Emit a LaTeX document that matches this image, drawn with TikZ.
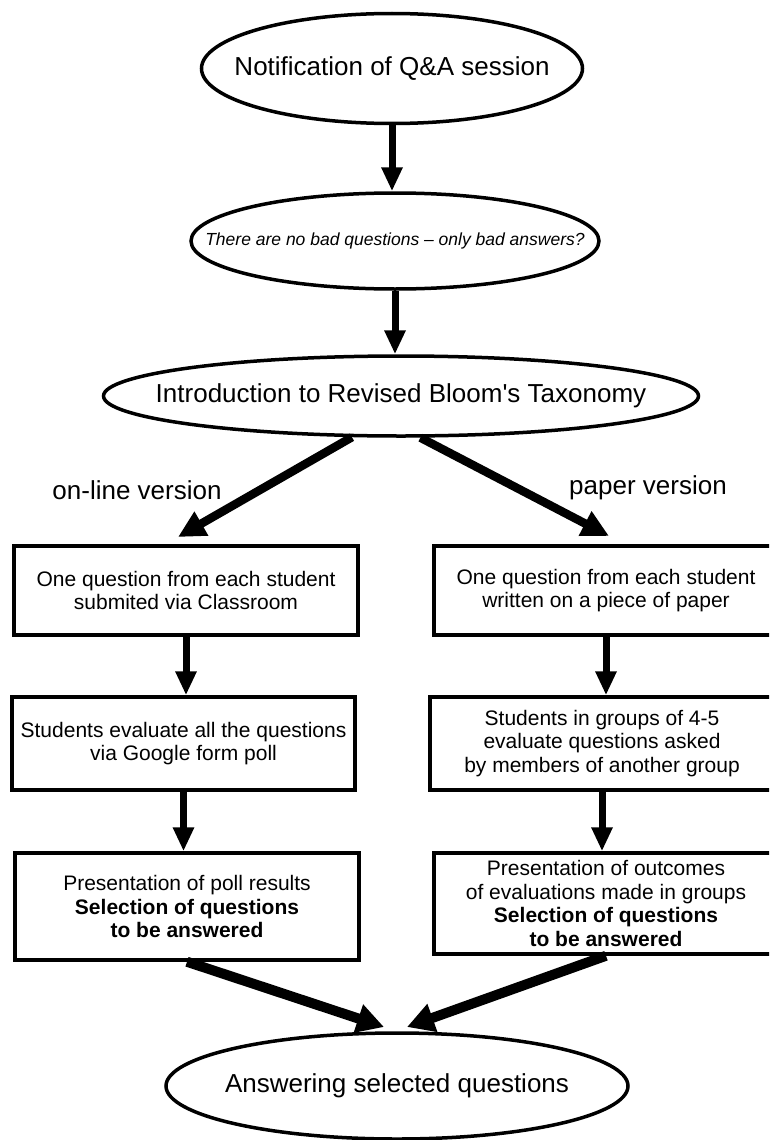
\documentclass[tikz,border=0pt]{standalone}
\usepackage{fontspec}
\setmainfont{Liberation Sans}[Ligatures=TeXOff]
\usetikzlibrary{shapes.geometric,arrows.meta}
\begin{document}
\begin{tikzpicture}[x=1pt,y=-1pt,
  ell/.style={draw, ellipse, line width=3.5pt, inner sep=0pt},
  box/.style={draw, rectangle, line width=3.5pt, inner sep=0pt, align=center, font=\fontsize{21}{23.5}\selectfont},
  big/.style={font=\fontsize{26}{30}\selectfont},
  arr/.style={line width=7pt, -{Triangle[length=24pt,width=20pt]}},
  darr/.style={line width=8.5pt, -{Triangle[length=27pt,width=26pt]}},
  barr/.style={line width=10pt, -{Triangle[length=27pt,width=28pt]}}]
\useasboundingbox (0,0) rectangle (769,1140);
\clip (0,0) rectangle (769,1140);
\fill[white] (0,0) rectangle (769,1140);

% ellipses
\node[ell, minimum width=381pt, minimum height=110pt,
  label={[big]center:Notification of Q\&A session}] (e1) at (392,68.5) {};
\node[ell, minimum width=408pt, minimum height=96pt,
  label={[font=\fontsize{17.5}{20}\selectfont\itshape]center:There are no bad questions – only bad answers?}] (e2) at (395,241) {};
\node[ell, minimum width=595pt, minimum height=80pt,
  label={[big]center:Introduction to Revised Bloom's Taxonomy}] (e3) at (401,396) {};
\node[ell, minimum width=462pt, minimum height=106pt,
  label={[big]center:Answering selected questions}] (e4) at (397,1086) {};

% labels
\node[big] (lab1) at (137,490) {on-line version};
\node[big] (lab2) at (648,488) {paper version};

% boxes
\node[box, minimum width=344pt, minimum height=89pt] (l1) at (186,590.5)
  {One question from each student\\submited via Classroom};
\node[box, minimum width=344pt, minimum height=89pt] (r1) at (606,590.5)
  {One question from each student\\written on a piece of paper};
\node[box, minimum width=343pt, minimum height=93pt] (l2) at (183.5,743.5)
  {Students evaluate all the questions\\via Google form poll};
\node[box, minimum width=344pt, minimum height=93pt] (r2) at (602,743.5)
  {Students in groups of 4-5\\evaluate questions asked\\by members of another group};
\node[box, minimum width=344pt, minimum height=107pt] (l3) at (187,906.5)
  {Presentation of poll results\\\textbf{Selection of questions}\\\textbf{to be answered}};
\node[box, minimum width=344pt, minimum height=101pt] (r3) at (606,903.5)
  {Presentation of outcomes\\of evaluations made in groups\\\textbf{Selection of questions}\\\textbf{to be answered}};

% free arrow ends
\coordinate (t1) at (178,537);
\coordinate (t2) at (609,536);
\coordinate (t3) at (384,1027);
\coordinate (t4) at (407,1027);

% connectors
\draw[arr] (e1.south) -- (e1.south |- e2.north);
\draw[arr] (e2.south) -- (e2.south |- e3.north);
\draw[darr] (e3.220) -- (t1);
\draw[darr] (e3.295) -- (t2);
\draw[arr] (l1.south) -- (l1.south |- l2.north);
\draw[arr] (r1.south) -- (r1.south |- r2.north);
\draw[arr] (l2.south) -- (l2.south |- l3.north);
\draw[arr] (r2.south) -- (r2.south |- r3.north);
\draw[barr] (l3.south) -- (t3);
\draw[barr] (r3.south) -- (t4);
\end{tikzpicture}
\end{document}
